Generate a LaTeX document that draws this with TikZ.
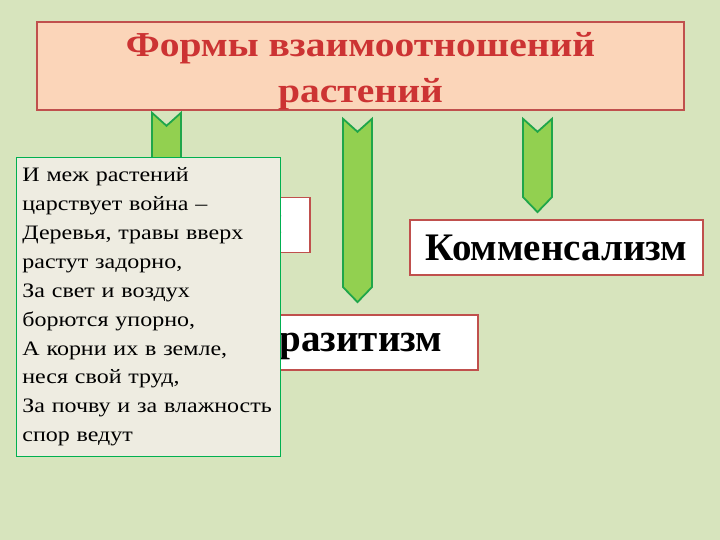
\documentclass[tikz,border=0pt]{standalone}
\usepackage{fontspec}
\setmainfont{Liberation Serif}
\newfontfamily\headfont[FakeStretch=1.13]{Liberation Serif}
\newfontfamily\versefont[FakeStretch=1.17]{Liberation Serif}
\usetikzlibrary{positioning, calc}
\definecolor{bgcol}{HTML}{D7E4BD}
\definecolor{peach}{HTML}{FBD5B9}
\definecolor{boxred}{HTML}{C0504D}
\definecolor{titlered}{HTML}{CC3333}
\definecolor{leaf}{HTML}{92D050}
\definecolor{leafline}{HTML}{1FA64A}
\definecolor{paper}{HTML}{EEECE1}
\definecolor{poemline}{HTML}{00B050}
\tikzstyle{heading} = [rectangle, minimum width=647pt, minimum height=88pt, inner ysep=0pt, align=center, draw=boxred, line width=1.6pt, fill=peach, text=titlered, font=\headfont\fontsize{35}{46}\selectfont\bfseries]
\tikzstyle{form} = [rectangle, minimum height=55pt, inner xsep=0pt, draw=boxred, line width=1.8pt, fill=white, font=\fontsize{39}{42}\selectfont\bfseries]
\tikzstyle{verse} = [rectangle, anchor=north west, text width=252pt, inner xsep=6pt, minimum height=299pt, align=left, draw=poemline, line width=0.8pt, fill=paper, font=\versefont\fontsize{20.5}{28.9}\selectfont]
\tikzstyle{chev} = [draw=leafline, line width=1.8pt, fill=leaf, line join=miter]
% chevron arrow: x-coordinate, top node, bottom node, top gap, bottom gap
\newcommand{\chevron}[5]{%
  \path[chev] let \p1=(#2.south -| #1), \p2=(#3.north -| #1) in
    (\x1-14.5pt,\y1-#4) -- (\x1,\y1-#4-13pt) -- (\x1+14.5pt,\y1-#4)
    -- (\x1+14.5pt,\y2+#5+15pt) -- (\x1,\y2+#5) -- (\x1-14.5pt,\y2+#5+15pt) -- cycle;}

\begin{document}
\begin{tikzpicture}[x=1pt, y=-1pt]
  \fill[bgcol] (0,0) rectangle (720,540);
  \useasboundingbox (0,0) rectangle (720,540);
  % boxes
  \node (title) [heading] at (360.5,66) {\rule{0pt}{34pt}Формы взаимоотношений\\растений};
  \node (konk) [form, minimum width=292pt] at (164,225) {Конкуренция};
  \node (paras) [form, minimum width=284pt] at (336,342.5) {Паразитизм};
  \node (komm) [form, minimum width=293pt] at (556.5,247.5) {Комменсализм};
  % arrows
  \coordinate (x1) at (166.5,0);
  \coordinate (x2) at (357.5,0);
  \coordinate (x3) at (537.5,0);
  \chevron{x1}{title}{konk}{2pt}{4pt}
  \chevron{x2}{title}{paras}{8pt}{12pt}
  \chevron{x3}{title}{komm}{8pt}{7pt}
  % poem
  \node (poem) [verse] at (16,157) {И меж растений\\
    царствует война –\\
    Деревья, травы вверх\\
    растут задорно,\\
    За свет и воздух\\
    борются упорно,\\
    А корни их в земле,\\
    неся свой труд,\\
    За почву и за влажность\\
    спор ведут};
\end{tikzpicture}
\end{document}
